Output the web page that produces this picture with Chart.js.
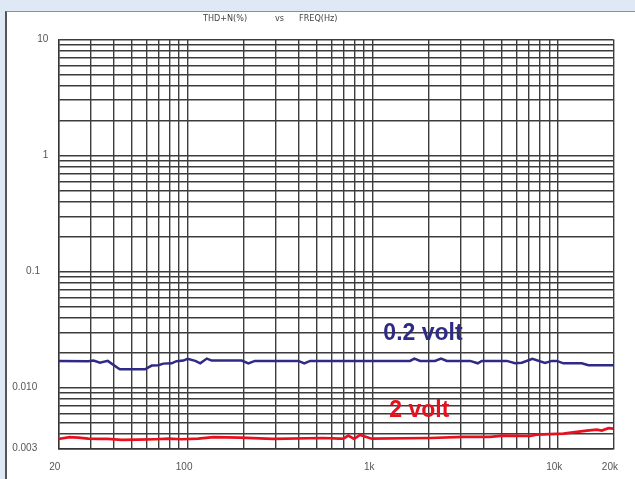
<!DOCTYPE html>
<html><head><meta charset="utf-8">
<script src="https://cdn.jsdelivr.net/npm/chart.js@4.4.0/dist/chart.umd.min.js"></script>
<style>
html,body{margin:0;padding:0;width:635px;height:479px;overflow:hidden;background:#dfe9f6;}
#panel{position:absolute;left:5px;top:11px;width:630px;height:468px;background:#fff;border-left:2px solid #555;border-top:1px solid #8a8f96;}
#wrap{position:absolute;left:0;top:0;width:635px;height:479px;}
</style></head><body>
<div id="panel"></div>
<div id="wrap"><canvas id="c"></canvas></div>
<script>
// 0.2 volt series
const freqBlue = [20,29,31,33.6,37,41.4,43,58.8,64,69.4,73.9,82,87,94.8,100,110,117,127,135,196,213,231,397,427,459,1592,1680,1804,2174,2342,2516,3362,3698,3888,5308,5884,6396,7298,8546,9290,9890,10734,13498,14650,20000];
const thdBlue  = [0.0170,0.0169,0.0171,0.0164,0.0170,0.0150,0.0144,0.0144,0.0155,0.0156,0.0161,0.0162,0.0169,0.0171,0.0177,0.0170,0.0162,0.0178,0.0171,0.0171,0.0162,0.0170,0.0170,0.0162,0.0170,0.0170,0.0178,0.0170,0.0170,0.0178,0.0170,0.0170,0.0162,0.0170,0.0170,0.0162,0.0164,0.0177,0.0163,0.0170,0.0170,0.0162,0.0162,0.0156,0.0156];
// 2 volt series
const freqRed = [20,23,25.7,29,33,37,44,54,67,79,93,114,138,192,289,539,666,694,739,793,855,989,2043,3092,4312,5086,7090,7706,10734,14360,16270,17312,18794,20000];
const thdRed  = [0.00361,0.00374,0.00371,0.00363,0.00361,0.00361,0.00354,0.00356,0.00359,0.00363,0.00359,0.00363,0.00374,0.00371,0.00361,0.00368,0.00363,0.00363,0.00386,0.00361,0.00391,0.00363,0.00368,0.00376,0.00376,0.00386,0.00383,0.00393,0.00401,0.00426,0.00434,0.00426,0.00447,0.00443];

const seriesNames = ['0.2 volt','2 volt'];
const seriesColors = ['#2e2a86','#e8101e'];

const xMin = 20, xMax = 20000, yMin = 0.003, yMax = 10;
const xTickValues = [20,100,1000,10000,20000];
const xTickLabels = ['20','100','1k','10k','20k'];
const yTickValues = [10,1,0.1,0.01,0.003];
const yTickLabels = ['10','1','0.1','0.010','0.003'];
const titleParts = ['THD+N(%)','vs','FREQ(Hz)'];

function gridValues(min, max){
  const out=[];
  for(let e=-4;e<=5;e++){
    for(let m=1;m<=9;m++){
      const v=Number((m*Math.pow(10,e)).toPrecision(3));
      if(v>=min*0.9999 && v<=max*1.0001) out.push(v);
    }
  }
  if(out[0]>min) out.unshift(min);
  if(out[out.length-1]<max) out.push(max);
  return out;
}
function lookup(vals, labels, v){
  for(let i=0;i<vals.length;i++){ if(Math.abs(vals[i]-v)/vals[i]<1e-6) return labels[i]; }
  return '';
}
const ySpacer = {'0.1':'   ','0.010':'    ','0.003':'    '};

const overlay = {
  id:'overlay',
  afterDatasetsDraw(chart){
    const ctx=chart.ctx, xs=chart.scales.x, ys=chart.scales.y;
    ctx.save();
    ctx.fillStyle='#444';
    ctx.font="9px 'DejaVu Sans Condensed', 'DejaVu Sans', sans-serif";
    ctx.textBaseline='middle';
    ctx.textAlign='left';
    const tx=[203,275,299];
    titleParts.forEach((t,i)=>ctx.fillText(t,tx[i],19));
    ctx.font="bold 23px 'Liberation Sans', Arial, sans-serif";
    ctx.textBaseline='alphabetic';
    ctx.fillStyle=seriesColors[0];
    ctx.fillText(seriesNames[0], xs.getPixelForValue(1142), ys.getPixelForValue(0.0258));
    ctx.fillStyle=seriesColors[1];
    ctx.fillText(seriesNames[1], xs.getPixelForValue(1230), ys.getPixelForValue(0.00556));
    ctx.restore();
  }
};

new Chart(document.getElementById('c'), {
  type:'line',
  data:{datasets:[
    {label:seriesNames[0], data:freqBlue.map((f,i)=>({x:f,y:thdBlue[i]})), borderColor:seriesColors[0], borderWidth:2.5, pointRadius:0, tension:0, fill:false},
    {label:seriesNames[1], data:freqRed.map((f,i)=>({x:f,y:thdRed[i]})), borderColor:seriesColors[1], borderWidth:2.7, pointRadius:0, tension:0, fill:false}
  ]},
  options:{
    responsive:true, maintainAspectRatio:false, animation:false,
    layout:{padding:{left:0,top:39.5,right:21.6,bottom:5.7}},
    plugins:{legend:{display:false}, title:{display:false}, tooltip:{enabled:false}},
    scales:{
      x:{type:'logarithmic', min:xMin, max:xMax,
        afterBuildTicks:(s)=>{s.ticks=gridValues(xMin,xMax).map(v=>({value:v}));},
        afterFit:(s)=>{s.height=25;},
        grid:{color:'#3c3c3c', lineWidth:1.4, drawTicks:false},
        border:{display:true,color:'#333',width:1.4},
        ticks:{autoSkip:false, maxRotation:0, padding:13, labelOffset:-3.5, color:'#555',
          font:{family:"'Liberation Sans', Arial, sans-serif", size:10},
          callback:(v)=>lookup(xTickValues,xTickLabels,v)}
      },
      y:{type:'logarithmic', min:yMin, max:yMax,
        afterBuildTicks:(s)=>{s.ticks=gridValues(yMin,yMax).map(v=>({value:v}));},
        afterFit:(s)=>{s.width=58.3;},
        grid:{color:'#3c3c3c', lineWidth:1.4, drawTicks:false},
        border:{display:true,color:'#333',width:1.4},
        ticks:{autoSkip:false, padding:10, color:'#555',
          font:{family:"'Liberation Sans', Arial, sans-serif", size:10},
          callback:(v)=>{const l=lookup(yTickValues,yTickLabels,v); return l ? l+(ySpacer[l]||'') : '';}}
      }
    }
  },
  plugins:[overlay]
});
</script>
</body></html>
